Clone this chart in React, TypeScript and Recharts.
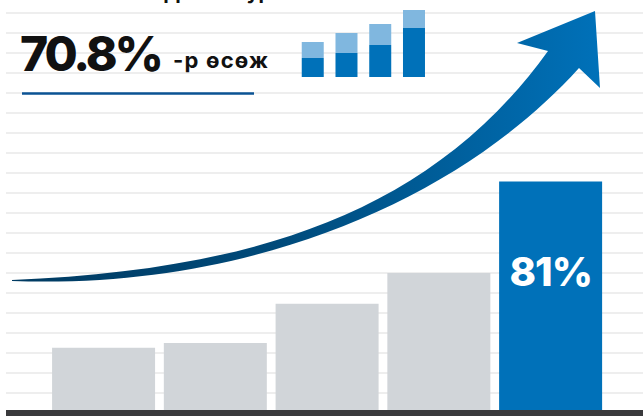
import { BarChart, Bar, XAxis, YAxis, CartesianGrid, ReferenceLine, LabelList, Cell } from 'recharts'

// main bars (share, %)
const periods = ['2019', '2020', '2021', '2022', '2023']
const shares = [22.8, 24.5, 38.2, 49, 81]
const shareLabels = ['', '', '', '', '81%']
const gridTicks = [0, 7, 14, 21, 28, 35, 42, 49, 56, 63, 70, 77, 84, 91, 98, 105, 112, 119, 126, 133, 140]

// small stacked icon
const iconCats = ['a', 'b', 'c', 'd']
const iconBase = [19, 24, 32, 49]
const iconTop = [16, 20, 21, 18]

const headline = '70.8%'
const headlineSuffix = '-р өсөж'
const title = 'Сүүлийн гурван жил'

const COLORS = {
  gray: '#d1d5d9',
  blue: '#0071b9',
  light: '#80b7df',
  grid: '#e8e8e8',
  base: '#3a3a3c',
  rule: '#0b5394'
}

const FONT = 'Inter, "Noto Sans", sans-serif'

const data = periods.map((p, i) => ({ period: p, share: shares[i], label: shareLabels[i] }))
const iconData = iconCats.map((c, i) => ({ cat: c, base: iconBase[i], top: iconTop[i] }))

// white value label inside the highlighted bar
function BarLabel(props: any) {
  const { x, y, width, value } = props
  if (!value) return null
  return (
    <text
      x={x + width / 2}
      y={y + 104}
      textAnchor="middle"
      fill="#fff"
      fontFamily={FONT}
      fontWeight={800}
      fontSize={40}
      letterSpacing={-1}
    >
      {value}
    </text>
  )
}

// decorative growth arrow + headline
function Overlay() {
  const arrow =
    'M12,280 C250,270 430,215 548,51 L517,43 L595,11 L600,88 L579,68 C460,200 250,290 12,281 Z'
  return (
    <svg width={643} height={416} style={{ position: 'absolute', left: 0, top: 0, pointerEvents: 'none' }}>
      <defs>
        <linearGradient id="arrowGrad" x1="12" y1="0" x2="600" y2="0" gradientUnits="userSpaceOnUse">
          <stop offset="0%" stopColor="#003a61" />
          <stop offset="45%" stopColor="#004a7a" />
          <stop offset="100%" stopColor="#0071b9" />
        </linearGradient>
      </defs>
      <text x={145} y={-1} fontFamily={FONT} fontWeight={700} fontSize={20} fill="#111">
        {title}
      </text>
      <text x={20} y={71} fontFamily={FONT} fontWeight={800} fontSize={48} letterSpacing={-3} fill="#111">
        {headline}
      </text>
      <text x={173} y={68} fontFamily={FONT} fontWeight={700} fontSize={22} letterSpacing={1.2} fill="#111">
        {headlineSuffix}
      </text>
      <line x1={22} y1={93.5} x2={254} y2={93.5} stroke={COLORS.rule} strokeWidth={2.5} />
      <path d={arrow} fill="url(#arrowGrad)" />
    </svg>
  )
}

export default function App() {
  return (
    <div style={{ position: 'absolute', left: 0, top: 0, width: 643, height: 416, background: '#fff', overflow: 'hidden' }}>
      <BarChart
        width={643}
        height={416}
        data={data}
        margin={{ top: 13, right: 0, bottom: 3, left: 6 }}
        barCategoryGap="4%"
      >
        <CartesianGrid vertical={false} stroke={COLORS.grid} strokeWidth={1.5} />
        <XAxis dataKey="period" hide padding={{ left: 41.6, right: 36.6 }} />
        <YAxis hide domain={[0, 140]} ticks={gridTicks} interval={0} />
        <Bar dataKey="share" isAnimationActive={false}>
          {data.map((d, i) => (
            <Cell key={d.period} fill={i === data.length - 1 ? COLORS.blue : COLORS.gray} />
          ))}
          <LabelList dataKey="label" content={BarLabel} />
        </Bar>
        <ReferenceLine y={0} stroke={COLORS.base} strokeWidth={6} />
      </BarChart>

      <div style={{ position: 'absolute', left: 296, top: 0 }}>
        <BarChart width={135} height={77} data={iconData} margin={{ top: 0, right: 0, bottom: 0, left: 0 }} barCategoryGap="17%">
          <XAxis dataKey="cat" hide />
          <YAxis hide domain={[0, 77]} />
          <Bar dataKey="base" stackId="s" fill={COLORS.blue} isAnimationActive={false} />
          <Bar dataKey="top" stackId="s" fill={COLORS.light} isAnimationActive={false} />
        </BarChart>
      </div>

      <Overlay />
    </div>
  )
}
